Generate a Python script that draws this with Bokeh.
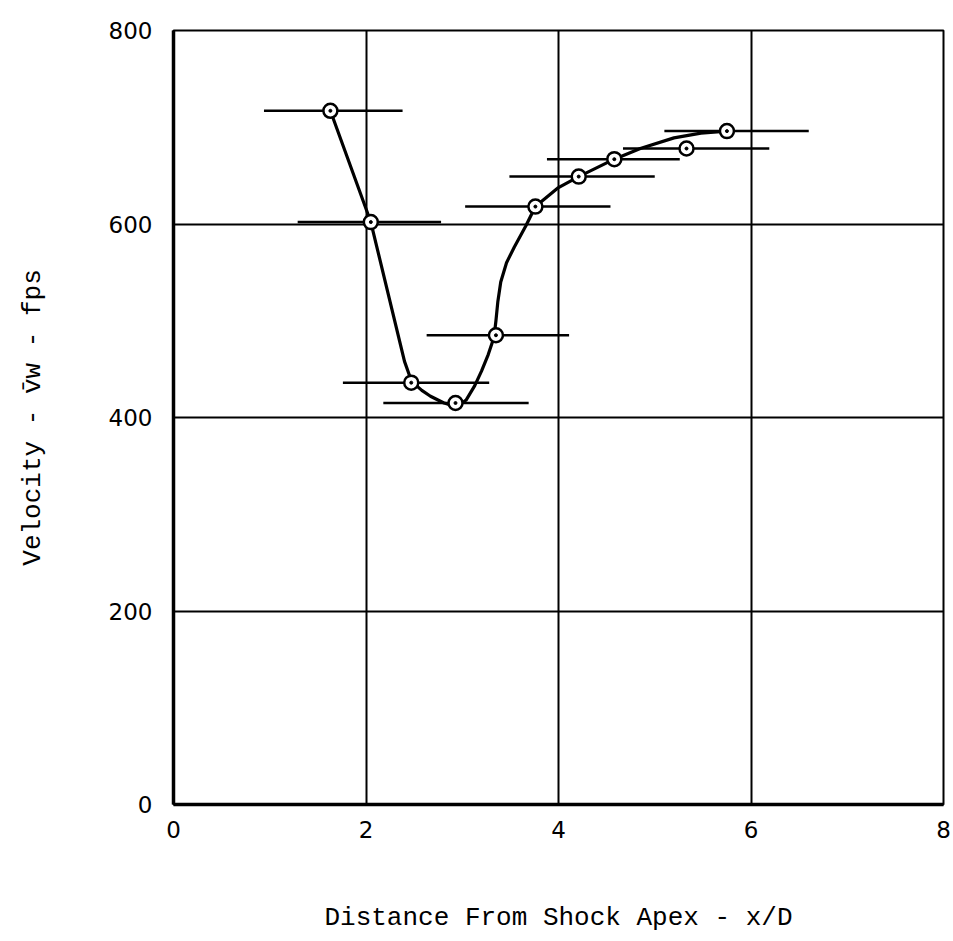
from bokeh.plotting import figure
from bokeh.models import Range1d, FixedTicker
from bokeh.embed import file_html
from bokeh.resources import INLINE

# Measured points (x/D, velocity fps)
pt_x = [1.63, 2.05, 2.47, 2.93, 3.35, 3.76, 4.21, 4.58, 5.33, 5.75]
pt_y = [717, 602, 436, 415, 485, 618, 649, 667, 678, 696]
# Horizontal extent bars (x/D)
bar_lo = [0.94, 1.29, 1.76, 2.18, 2.63, 3.03, 3.49, 3.88, 4.67, 5.10]
bar_hi = [2.38, 2.78, 3.28, 3.69, 4.11, 4.54, 5.00, 5.26, 6.19, 6.60]
# Hand-drawn faired curve
curve_x = [1.63, 2.05, 2.40, 2.45, 2.50, 2.58, 2.67, 2.81, 2.95, 3.04, 3.13, 3.20,
           3.27, 3.33, 3.35, 3.37, 3.40, 3.46, 3.54, 3.66, 3.76, 3.99, 4.21, 4.58,
           4.85, 5.20, 5.48, 5.75]
curve_y = [717, 602, 458, 444, 435, 428, 422, 415, 411, 418, 433, 448,
           465, 483, 500, 520, 540, 560, 576, 598, 618, 637, 649, 667,
           678, 689, 694, 696]

x_ticks = [0, 2, 4, 6, 8]
y_ticks = [0, 200, 400, 600, 800]
x_title = "Distance From Shock Apex - x/D"
y_title = "Velocity - v\u0304w - fps"

p = figure(width=953, height=941, output_backend="svg", toolbar_location=None,
           x_range=Range1d(0, 8), y_range=Range1d(0, 800),
           min_border_left=173, min_border_right=10, min_border_top=30,
           min_border_bottom=137)
p.background_fill_color = "white"
p.border_fill_color = "white"
p.outline_line_color = "black"
p.outline_line_width = 2

for ax in (p.xaxis[0], p.yaxis[0]):
    ax.major_tick_line_color = None
    ax.minor_tick_line_color = None
    ax.axis_line_color = "black"
    ax.axis_line_width = 3.5
    ax.major_label_text_font = "DejaVu Sans"
    ax.major_label_text_font_size = "23px"
    ax.major_label_text_color = "black"
    ax.axis_label_text_font = "Liberation Mono"
    ax.axis_label_text_font_size = "26px"
    ax.axis_label_text_font_style = "normal"
    ax.axis_label_text_color = "black"

p.xaxis.ticker = FixedTicker(ticks=x_ticks)
p.yaxis.ticker = FixedTicker(ticks=y_ticks)
p.xaxis.major_label_standoff = 10
p.yaxis.major_label_standoff = 15
p.xaxis.axis_label = x_title
p.yaxis.axis_label = y_title
p.xaxis.axis_label_standoff = 62
p.yaxis.axis_label_standoff = 58

p.xgrid.ticker = FixedTicker(ticks=x_ticks)
p.ygrid.ticker = FixedTicker(ticks=y_ticks)
for g in (p.xgrid[0], p.ygrid[0]):
    g.grid_line_color = "black"
    g.grid_line_width = 2
    g.grid_line_alpha = 1.0

p.segment(x0=bar_lo, y0=pt_y, x1=bar_hi, y1=pt_y, line_color="black", line_width=2.5)
p.line(curve_x, curve_y, line_color="black", line_width=3.2, line_join="round")
p.scatter(pt_x, pt_y, size=14, fill_color="white", line_color="black", line_width=2.5)
p.scatter(pt_x, pt_y, size=3, fill_color="black", line_color="black")

open("out.html", "w").write(file_html(p, INLINE))
